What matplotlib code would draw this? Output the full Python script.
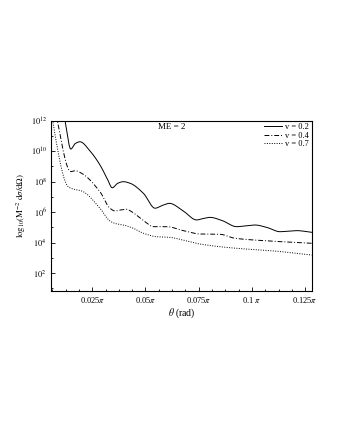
import numpy as np
import matplotlib
matplotlib.use("Agg")
import matplotlib.pyplot as plt
from matplotlib.ticker import FixedLocator, MultipleLocator, NullFormatter, FixedFormatter

plt.rcParams['font.family'] = ['Liberation Serif', 'DejaVu Serif']
plt.rcParams['mathtext.fontset'] = 'stix'

# theta in units of pi, log10 cross section
x_v02 = [0.0110, 0.0122, 0.0149, 0.0170, 0.0192, 0.0240, 0.0286, 0.0320, 0.0344, 0.0370, 0.0396,
         0.0427, 0.0490, 0.0545, 0.0580, 0.0612, 0.0680, 0.0740, 0.0770, 0.0803, 0.0860,
         0.0928, 0.0970, 0.1014, 0.1070, 0.1132, 0.1170, 0.1210, 0.1281]
y_v02 = [13.0, 12.0, 10.14, 10.50, 10.62, 10.00, 9.10, 8.20, 7.60, 7.90, 8.00,
         7.90, 7.24, 6.26, 6.45, 6.58, 6.05, 5.49, 5.58, 5.66, 5.45,
         5.05, 5.10, 5.16, 5.00, 4.72, 4.76, 4.79, 4.68]

x_v04 = [0.0075, 0.0086, 0.0149, 0.0170, 0.0200, 0.0286, 0.0333, 0.0357, 0.0385, 0.0412,
         0.0427, 0.0497, 0.0537, 0.0600, 0.0678, 0.0756, 0.0850, 0.0920, 0.1060, 0.1281]
y_v04 = [13.0, 12.0, 8.66, 8.72, 8.55, 7.34, 6.26, 6.08, 6.15, 6.19,
         6.10, 5.38, 5.05, 5.05, 4.79, 4.57, 4.55, 4.29, 4.13, 3.96]

x_v07 = [0.0055, 0.0064, 0.0137, 0.0160, 0.0200, 0.0286, 0.0333, 0.0360, 0.0396, 0.0443,
         0.0490, 0.0553, 0.0615, 0.0680, 0.0756, 0.0928, 0.1085, 0.1281]
y_v07 = [13.0, 12.0, 7.67, 7.52, 7.39, 6.26, 5.42, 5.25, 5.16, 4.94,
         4.62, 4.39, 4.35, 4.15, 3.91, 3.63, 3.48, 3.19]

xticks = [0.025, 0.05, 0.075, 0.1, 0.125]
xticklabels = [r'0.025$\pi$', r'0.05$\pi$', r'0.075$\pi$', r'0.1 $\pi$', r'0.125$\pi$']
yticks = [1e2, 1e4, 1e6, 1e8, 1e10, 1e12]
yticklabels = [r'$10^{2}$', r'$10^{4}$', r'$10^{6}$', r'$10^{8}$', r'$10^{10}$', r'$10^{12}$']

fig = plt.figure(figsize=(3.4, 4.4), dpi=100)
ax = fig.add_axes([0.15, 0.3393, 0.7668, 0.3864])

def smooth(xs, ys):
    xs = np.asarray(xs); ys = np.asarray(ys)
    xx = np.linspace(xs[0], xs[-1], 600)
    h = np.diff(xs); d = np.diff(ys) / h
    m = np.zeros_like(ys)
    m[0] = d[0]; m[-1] = d[-1]
    for i in range(1, len(xs) - 1):
        if d[i-1] * d[i] <= 0:
            m[i] = 0
        else:
            w1 = 2*h[i] + h[i-1]; w2 = h[i] + 2*h[i-1]
            m[i] = (w1 + w2) / (w1/d[i-1] + w2/d[i])
    idx = np.clip(np.searchsorted(xs, xx) - 1, 0, len(xs) - 2)
    t = (xx - xs[idx]) / h[idx]
    h00 = 2*t**3 - 3*t**2 + 1; h10 = t**3 - 2*t**2 + t
    h01 = -2*t**3 + 3*t**2; h11 = t**3 - t**2
    yy = h00*ys[idx] + h10*h[idx]*m[idx] + h01*ys[idx+1] + h11*h[idx]*m[idx+1]
    return xx, 10**yy

lw = 0.7
xs, ys = smooth(x_v02, y_v02)
ax.plot(xs, ys, color='black', lw=lw, ls='-', label='v = 0.2')
xs, ys = smooth(x_v04, y_v04)
ax.plot(xs, ys, color='black', lw=lw, ls=(0, (5, 2, 1, 2)), label='v = 0.4')
xs, ys = smooth(x_v07, y_v07)
ax.plot(xs, ys, color='black', lw=lw, ls=(0, (1, 1.5)), label='v = 0.7')

ax.set_yscale('log')
ax.set_xlim(0.0056, 0.1281)
ax.set_ylim(10**0.85, 1e12)
ax.set_xticks(xticks)
ax.set_xticklabels(xticklabels, fontsize=6)
ax.xaxis.set_minor_locator(MultipleLocator(0.00625))
ax.yaxis.set_major_locator(FixedLocator(yticks))
ax.yaxis.set_major_formatter(FixedFormatter(yticklabels))
ax.yaxis.set_minor_locator(FixedLocator([1e1, 1e3, 1e5, 1e7, 1e9, 1e11]))
ax.yaxis.set_minor_formatter(NullFormatter())
ax.tick_params(axis='y', which='major', labelsize=6)
ax.tick_params(which='both', direction='in', width=0.6)
ax.tick_params(which='major', length=3, pad=3)
ax.tick_params(which='minor', length=1.5)
for s in ax.spines.values():
    s.set_linewidth(0.8)

ax.set_xlabel(r'$\theta$ (rad)', fontsize=7, labelpad=1)
ax.set_ylabel(r'$\log_{10}\!\left(\mathrm{M}^{-2}\ \mathrm{d}\sigma/\mathrm{d}\Omega\right)$', fontsize=6.3, labelpad=2)
ax.text(0.464, 0.963, 'ME = 2', transform=ax.transAxes, ha='center', va='center', fontsize=6.5)

leg = ax.legend(loc='upper right', fontsize=6, frameon=False, handlelength=2.2,
                handletextpad=0.4, labelspacing=0.05, borderaxespad=0.2, borderpad=0.1)

fig.savefig('out.png', dpi=100)
